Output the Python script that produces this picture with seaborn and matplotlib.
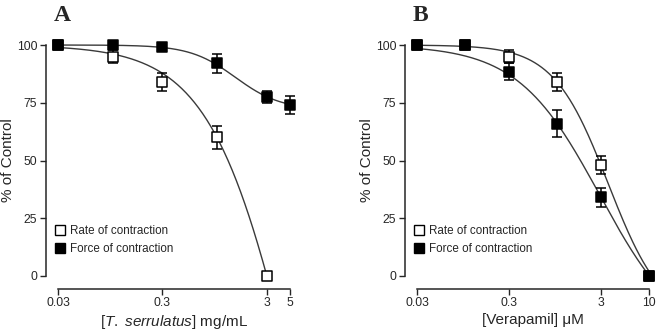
import numpy as np
import pandas as pd
import seaborn as sns
import matplotlib.pyplot as plt
from matplotlib.lines import Line2D
from matplotlib.ticker import NullLocator

# panel A: T. serrulatus (mg/mL)
conc_a = [0.03, 0.1, 0.3, 1, 3]
rate_a = [100, 95, 84, 60, 0]
rate_a_err = [0, 3, 4, 5, 0]
conc_a_force = [0.03, 0.1, 0.3, 1, 3, 5]
force_a = [100, 100, 99, 92, 77.5, 74]
force_a_err = [0, 0, 0, 4, 2.5, 4]

# panel B: verapamil (uM)
conc_b = [0.03, 0.1, 0.3, 1, 3, 10]
rate_b = [100, 100, 95, 84, 48, 0]
rate_b_err = [0, 0, 3, 4, 4, 0]
force_b = [100, 100, 88.5, 66, 34, 0]
force_b_err = [0, 0, 3.5, 6, 4, 0]

# fitted curves: (top, bottom, ic50, hill, x_max)
fit_rate_a = (100, -200, 5.74, 1.07, 3)
fit_force_a = (100, 72, 1.5, 2.0, 5)
fit_rate_b = (100, -20, 3.6, 1.46, 10)
fit_force_b = (100, -30, 2.92, 0.97, 10)

sns.set_style("ticks")
plt.rcParams['font.family'] = ['Liberation Sans', 'DejaVu Sans']
plt.rcParams['mathtext.fontset'] = 'custom'
plt.rcParams['mathtext.it'] = 'Liberation Sans:italic'
plt.rcParams['mathtext.rm'] = 'Liberation Sans'

W, H = 658, 336
fig = plt.figure(figsize=(W / 100, H / 100), dpi=100)
ax_a = fig.add_axes([58 / W, 1 - 276 / H, 232 / W, 231 / H])
ax_b = fig.add_axes([417 / W, 1 - 276 / H, 232 / W, 231 / H])

line_col = '#3a3a3a'


def curve(ax, fit):
    top, bottom, ic50, hill, xmax = fit
    xs = np.logspace(np.log10(0.03), np.log10(xmax), 200)
    ys = bottom + (top - bottom) / (1 + (xs / ic50) ** hill)
    sns.lineplot(x=xs, y=ys, ax=ax, color=line_col, lw=1.0, clip_on=False)


def points(ax, x, y, err, filled):
    e = np.array(err, dtype=float)
    ax.errorbar(x, y, yerr=np.where(e > 0, e, np.nan), fmt='none',
                ecolor='black', elinewidth=1.1, capsize=3.5, capthick=1.1,
                clip_on=False, zorder=4)
    sns.scatterplot(x=x, y=y, ax=ax, marker='s', s=55,
                    color='black' if filled else 'white',
                    edgecolor='black', linewidth=1.1, clip_on=False, zorder=5)


def style(ax, xticks, xlabels, xmax, xlabel, letter):
    ax.set_xscale('log')
    ax.set_xlim(0.03, xmax)
    ax.set_ylim(0, 100)
    ax.set_xticks(xticks)
    ax.set_xticklabels(xlabels)
    ax.xaxis.set_minor_locator(NullLocator())
    ax.set_yticks([0, 25, 50, 75, 100])
    ax.tick_params(labelsize=8.7, length=4, width=1, pad=2)
    sns.despine(ax=ax, offset=9, trim=True)
    for s in ('left', 'bottom'):
        ax.spines[s].set_linewidth(1.1)
    ax.set_ylabel('% of Control', fontsize=11, labelpad=1)
    ax.set_xlabel(xlabel, fontsize=11, labelpad=3)
    ax.text(-0.02, 1.175, letter, transform=ax.transAxes, fontsize=17,
            fontweight='bold', family='Liberation Serif', va='top')
    handles = [
        Line2D([], [], ls='none', marker='s', ms=7, mfc='white', mec='black', mew=1),
        Line2D([], [], ls='none', marker='s', ms=7, mfc='black', mec='black', mew=1),
    ]
    ax.legend(handles, ['Rate of contraction', 'Force of contraction'],
              loc='lower left', bbox_to_anchor=(-0.055, 0.045), frameon=False,
              fontsize=8.4, handlelength=0.8, handletextpad=0.4, labelspacing=0.55)


curve(ax_a, fit_rate_a)
curve(ax_a, fit_force_a)
points(ax_a, conc_a, rate_a, rate_a_err, False)
points(ax_a, conc_a_force, force_a, force_a_err, True)
style(ax_a, [0.03, 0.3, 3, 5], ['0.03', '0.3', '3', '5'], 5,
      r'[$\it{T.\ serrulatus}$] mg/mL', 'A')

curve(ax_b, fit_rate_b)
curve(ax_b, fit_force_b)
points(ax_b, conc_b, rate_b, rate_b_err, False)
points(ax_b, conc_b, force_b, force_b_err, True)
style(ax_b, [0.03, 0.3, 3, 10], ['0.03', '0.3', '3', '10'], 10,
      '[Verapamil] μM', 'B')

fig.savefig('out.png', dpi=100)
